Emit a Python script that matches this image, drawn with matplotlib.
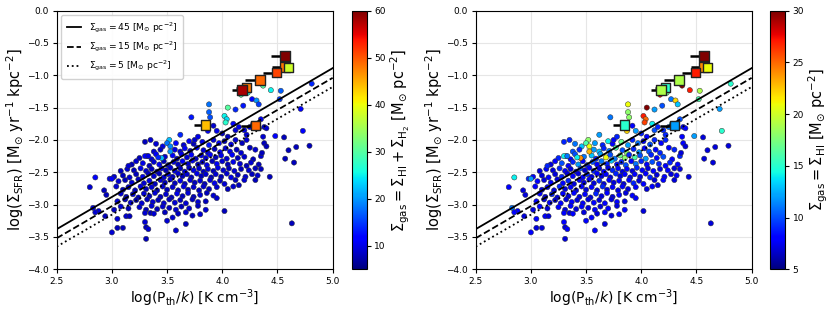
import numpy as np
import matplotlib.pyplot as plt

# model lines for three gas surface densities
line_x = [2.5, 5.0]
line_45 = [-3.38, -0.89]
line_15 = [-3.52, -1.04]
line_5 = [-3.65, -1.18]

# big squares with left-side error bars
sq_x = [4.57, 4.57, 4.60, 4.49, 4.34, 4.22, 4.18, 3.85, 4.30]
sq_y = [-0.70, -0.87, -0.88, -0.96, -1.07, -1.19, -1.23, -1.77, -1.78]
sq_xerr = [0.13, 0.12, 0.12, 0.12, 0.13, 0.10, 0.09, 0.11, 0.13]
sq_tot = [60, 48, 38, 51, 49, 48, 58, 44, 49]
sq_hi = [30, 24, 21, 27, 19, 15, 19, 15, 12]

# main cloud of points (row by row)
cloud_x = [
    3.92, 3.95, 4.00, 4.10, 4.12, 4.15, 4.05,
    3.40, 3.46, 3.58, 3.65, 3.70, 3.74, 3.82, 3.88, 3.92, 3.97, 4.02, 4.08, 4.12, 4.18, 4.22,
    3.38, 3.44, 3.57, 3.62, 3.66, 3.71, 3.77, 3.83, 3.87, 3.93, 3.98, 4.03, 4.07, 4.13, 4.17, 4.25, 4.30,
    3.25, 3.32, 3.36, 3.40, 3.48, 3.55, 3.59, 3.63, 3.68, 3.72, 3.76, 3.81, 3.85, 3.89, 3.94, 3.99, 4.04, 4.09, 4.14, 4.20, 4.28, 4.35,
    3.18, 3.22, 3.28, 3.34, 3.38, 3.43, 3.47, 3.51, 3.56, 3.60, 3.64, 3.69, 3.73, 3.78, 3.82, 3.86, 3.91, 3.95, 4.00, 4.05, 4.10, 4.16, 4.22, 4.26, 4.33,
    3.08, 3.14, 3.20, 3.26, 3.31, 3.36, 3.41, 3.45, 3.49, 3.53, 3.57, 3.62, 3.66, 3.70, 3.74, 3.79, 3.83, 3.87, 3.92, 3.96, 4.01, 4.06, 4.11, 4.17, 4.24, 4.30,
    3.02, 3.10, 3.16, 3.22, 3.28, 3.33, 3.38, 3.43, 3.47, 3.51, 3.55, 3.60, 3.64, 3.68, 3.72, 3.77, 3.81, 3.85, 3.90, 3.94, 3.99, 4.04, 4.08, 4.14, 4.21, 4.27, 4.32, 4.43,
    2.98, 3.06, 3.12, 3.18, 3.24, 3.29, 3.34, 3.39, 3.44, 3.48, 3.53, 3.57, 3.62, 3.66, 3.71, 3.75, 3.80, 3.84, 3.89, 3.93, 3.98, 4.02, 4.12, 4.20, 4.30,
    2.80, 2.93, 3.04, 3.10, 3.15, 3.21, 3.26, 3.31, 3.36, 3.41, 3.46, 3.50, 3.55, 3.60, 3.65, 3.69, 3.74, 3.79, 3.83, 3.88, 3.95, 4.05, 4.10, 4.15,
    2.95, 3.08, 3.13, 3.19, 3.24, 3.29, 3.34, 3.39, 3.44, 3.49, 3.54, 3.59, 3.64, 3.69, 3.74, 3.80, 3.86, 3.92,
    3.05, 3.12, 3.17, 3.22, 3.27, 3.32, 3.37, 3.42, 3.47, 3.52, 3.57, 3.62, 3.67, 3.73, 3.78, 3.85, 3.95,
    2.83, 2.88, 3.02, 3.08, 3.15, 3.25, 3.31, 3.36, 3.41, 3.46, 3.52, 3.58, 3.63, 3.70, 3.78, 3.85, 4.02,
    2.85, 2.94, 3.13, 3.16, 3.30, 3.35, 3.38, 3.48, 3.55, 3.60, 3.67, 3.73, 3.80,
    3.00, 3.05, 3.05, 3.10, 3.30, 3.31, 3.33, 3.31, 3.58, 3.67, 3.50,
]
cloud_y = [
    -1.78, -1.86, -1.90, -1.75, -1.85, -1.80, -1.95,
    -2.06, -2.10, -2.05, -2.08, -2.02, -2.06, -2.03, -2.08, -2.00, -2.05, -2.02, -2.07, -2.00, -2.05, -2.00,
    -2.18, -2.15, -2.15, -2.18, -2.13, -2.17, -2.12, -2.16, -2.20, -2.14, -2.19, -2.13, -2.18, -2.15, -2.20, -2.12, -2.15,
    -2.28, -2.25, -2.30, -2.22, -2.26, -2.24, -2.29, -2.22, -2.27, -2.23, -2.29, -2.24, -2.28, -2.23, -2.27, -2.24, -2.29, -2.23, -2.28, -2.26, -2.30, -2.25,
    -2.38, -2.33, -2.36, -2.40, -2.34, -2.38, -2.33, -2.39, -2.34, -2.38, -2.33, -2.37, -2.32, -2.38, -2.34, -2.39, -2.33, -2.37, -2.33, -2.38, -2.34, -2.37, -2.40, -2.35, -2.38,
    -2.48, -2.45, -2.47, -2.44, -2.48, -2.45, -2.49, -2.44, -2.47, -2.43, -2.48, -2.44, -2.49, -2.43, -2.47, -2.44, -2.49, -2.45, -2.48, -2.43, -2.47, -2.44, -2.48, -2.45, -2.47, -2.44,
    -2.57, -2.55, -2.58, -2.53, -2.57, -2.52, -2.56, -2.52, -2.58, -2.53, -2.57, -2.52, -2.56, -2.53, -2.58, -2.52, -2.56, -2.53, -2.58, -2.53, -2.57, -2.52, -2.58, -2.54, -2.57, -2.53, -2.55, -2.57,
    -2.60, -2.64, -2.62, -2.66, -2.61, -2.67, -2.63, -2.68, -2.62, -2.66, -2.61, -2.67, -2.63, -2.68, -2.62, -2.66, -2.63, -2.68, -2.62, -2.67, -2.63, -2.68, -2.62, -2.62, -2.62,
    -2.73, -2.78, -2.72, -2.77, -2.73, -2.78, -2.72, -2.76, -2.73, -2.78, -2.72, -2.77, -2.73, -2.78, -2.72, -2.77, -2.73, -2.78, -2.72, -2.76, -2.73, -2.76, -2.72, -2.70,
    -2.85, -2.83, -2.88, -2.84, -2.89, -2.83, -2.87, -2.82, -2.88, -2.84, -2.89, -2.83, -2.87, -2.82, -2.88, -2.85, -2.82, -2.86,
    -2.95, -2.92, -2.97, -2.93, -2.98, -2.92, -2.96, -2.93, -2.98, -2.92, -2.97, -2.93, -2.98, -2.92, -2.96, -2.95, -2.90,
    -3.05, -3.10, -3.08, -3.03, -3.06, -3.04, -3.08, -3.02, -3.07, -3.03, -3.05, -3.08, -3.03, -3.06, -3.02, -3.08, -3.10,
    -3.12, -3.18, -3.18, -3.18, -3.13, -3.13, -3.14, -3.12, -3.20, -3.14, -3.12, -3.17, -3.15,
    -3.43, -3.36, -3.22, -3.36, -3.27, -3.35, -3.38, -3.53, -3.40, -3.30, -3.25,
]
cloud_tot = [
    9, 10, 8, 11, 9, 10, 8,
    9, 10, 12, 9, 11, 8, 10, 13, 9, 11, 8, 10, 9, 8, 9,
    9, 8, 10, 9, 11, 8, 12, 9, 10, 8, 11, 9, 10, 8, 9, 8, 9,
    8, 10, 9, 11, 9, 12, 8, 10, 9, 11, 8, 10, 9, 12, 8, 10, 9, 11, 8, 9, 8, 9,
    8, 9, 10, 8, 9, 11, 8, 10, 9, 8, 11, 9, 10, 8, 9, 10, 8, 11, 9, 8, 10, 9, 8, 9, 8,
    8, 9, 8, 10, 9, 8, 9, 11, 8, 9, 10, 8, 9, 8, 10, 9, 8, 9, 8, 10, 9, 8, 9, 8, 9, 8,
    9, 8, 9, 8, 10, 8, 9, 8, 9, 10, 8, 9, 8, 9, 8, 10, 8, 9, 8, 9, 8, 9, 10, 8, 9, 8, 9, 8,
    10, 9, 8, 9, 8, 9, 10, 8, 9, 8, 9, 8, 10, 8, 9, 8, 9, 8, 9, 10, 8, 9, 8, 9, 8,
    9, 8, 9, 8, 9, 8, 10, 8, 9, 8, 9, 8, 9, 8, 10, 8, 9, 8, 9, 8, 9, 8, 9, 8,
    8, 9, 8, 10, 8, 9, 8, 9, 8, 9, 8, 10, 8, 9, 8, 9, 8, 9,
    9, 8, 9, 8, 9, 8, 9, 8, 9, 8, 9, 8, 9, 8, 9, 8, 9,
    10, 9, 8, 9, 8, 9, 8, 9, 8, 9, 8, 9, 8, 9, 8, 9, 8,
    9, 8, 9, 8, 9, 8, 9, 8, 9, 8, 9, 8, 9,
    9, 8, 9, 8, 9, 8, 9, 8, 9, 8, 9,
]
cloud_hi = [
    8, 12, 9, 14, 10, 9, 8,
    11, 13, 12, 9, 14, 8, 17, 12, 9, 11, 8, 10, 9, 8, 9,
    10, 9, 12, 13, 9, 11, 16, 10, 18, 9, 12, 8, 10, 8, 9, 8, 9,
    9, 12, 8, 10, 11, 13, 9, 12, 21, 10, 11, 17, 18, 9, 16, 10, 12, 9, 8, 10, 8, 9,
    7, 8, 10, 8, 9, 12, 8, 9, 10, 8, 11, 9, 13, 8, 9, 10, 8, 11, 9, 8, 10, 9, 8, 9, 8,
    7, 8, 7, 9, 8, 7, 8, 10, 7, 8, 9, 7, 8, 7, 9, 8, 7, 8, 7, 9, 8, 7, 8, 7, 8, 7,
    8, 7, 8, 7, 9, 7, 8, 7, 8, 9, 7, 8, 7, 8, 7, 9, 7, 8, 7, 8, 7, 8, 9, 7, 8, 7, 8, 7,
    9, 8, 7, 8, 7, 8, 9, 7, 8, 7, 8, 7, 9, 7, 8, 7, 8, 7, 8, 9, 7, 8, 7, 8, 7,
    8, 7, 8, 7, 8, 7, 9, 7, 8, 7, 8, 7, 8, 7, 9, 7, 8, 7, 8, 7, 8, 7, 8, 7,
    7, 8, 7, 9, 7, 8, 7, 8, 7, 8, 7, 9, 7, 8, 7, 8, 7, 8,
    8, 7, 8, 7, 8, 7, 8, 7, 8, 7, 8, 7, 8, 7, 8, 7, 8,
    11, 8, 7, 8, 7, 8, 7, 8, 7, 8, 7, 8, 7, 8, 7, 8, 7,
    8, 7, 8, 7, 8, 7, 8, 7, 8, 7, 8, 7, 8,
    8, 7, 8, 7, 8, 7, 8, 7, 8, 7, 8,
]

# scattered points above and to the right of the cloud
edge_x = [3.52, 3.50, 3.53, 3.53, 3.45, 3.42, 3.30, 3.30, 3.35, 3.62, 3.72, 3.75,
          3.78, 3.87, 3.88, 3.88, 3.89, 4.02, 4.04, 4.03, 4.05, 4.12, 4.17, 4.19,
          4.23, 4.27, 4.31, 4.33, 4.37, 4.44, 4.53, 4.52, 4.81, 4.71, 4.73, 4.48,
          4.56, 4.57, 4.60, 4.67, 4.65, 4.79, 4.63, 4.35, 4.28, 4.20, 4.22, 4.25,
          4.33, 4.38, 4.40, 4.37, 4.38, 4.40, 4.36, 4.35, 2.85, 3.00, 3.15, 3.33]
edge_y = [-2.00, -2.05, -2.10, -2.18, -2.28, -2.27, -2.25, -2.03, -2.00, -1.92, -1.65, -2.00,
          -1.95, -1.86, -1.45, -1.57, -1.65, -1.63, -1.68, -1.73, -1.50, -1.53, -1.30, -1.47,
          -1.27, -1.37, -1.39, -1.45, -1.16, -1.23, -1.24, -1.37, -1.13, -1.52, -1.86, -1.94,
          -1.96, -2.29, -2.16, -2.11, -2.35, -2.09, -3.29, -1.68, -1.75, -1.85, -1.92, -1.80,
          -1.82, -1.80, -1.82, -1.95, -2.05, -2.10, -2.20, -2.45, -2.58, -2.60, -2.40, -2.25]
edge_tot = [22, 18, 19, 20, 22, 14, 12, 8, 9, 14, 13, 9,
            10, 12, 18, 17, 16, 25, 24, 27, 30, 14, 30, 13,
            26, 12, 20, 15, 30, 25, 17, 15, 14, 11, 12, 12,
            8, 8, 8, 8, 8, 8, 8, 10, 10, 10, 9, 10,
            9, 9, 9, 9, 8, 8, 8, 8, 12, 11, 9, 10]
edge_hi = [18, 16, 21, 23, 24, 14, 14, 9, 9, 12, 11, 8,
           9, 22, 21, 18, 18, 27, 25, 26, 30, 12, 28, 10,
           17, 11, 22, 13, 30, 27, 19, 16, 15, 12, 15, 12,
           7, 7, 7, 7, 7, 7, 7, 10, 14, 9, 9, 11,
           9, 8, 8, 8, 8, 7, 7, 7, 14, 12, 9, 11]

pts_x = np.array(cloud_x + edge_x)
pts_y = np.array(cloud_y + edge_y)
pts_tot = np.array(cloud_tot + edge_tot)
pts_hi = np.array(cloud_hi + edge_hi)

fig = plt.figure(figsize=(8.3, 3.12), dpi=100)

panels = [
    (0.0683, 0.4237, pts_tot, sq_tot, 5, 60,
     r'$\Sigma_{\rm gas} = \Sigma_{\rm HI} + \Sigma_{\rm H_2}$ [M$_{\odot}$ pc$^{-2}$]'),
    (0.5731, 0.9277, pts_hi, sq_hi, 5, 30,
     r'$\Sigma_{\rm gas} = \Sigma_{\rm HI}$ [M$_{\odot}$ pc$^{-2}$]'),
]

for ax_x, cb_x, cvals, sqvals, vmin, vmax, cblabel in panels:
    ax = fig.add_axes([ax_x, 0.137, 0.3325, 0.829])
    cax = fig.add_axes([cb_x, 0.137, 0.0181, 0.829])

    ax.grid(True, color='#e6e6e6', linewidth=0.8, zorder=0)
    ax.set_axisbelow(True)

    sc = ax.scatter(pts_x, pts_y, c=cvals, cmap='jet', vmin=vmin, vmax=vmax,
                    s=14, edgecolors='#333333', linewidths=0.35, zorder=2)

    ax.plot(line_x, line_45, color='black', linestyle='-', lw=1.3, zorder=3,
            label=r'$\Sigma_{\rm gas} = 45$ [M$_{\odot}$ pc$^{-2}$]')
    ax.plot(line_x, line_15, color='black', linestyle='--', lw=1.3, zorder=3,
            label=r'$\Sigma_{\rm gas} = 15$ [M$_{\odot}$ pc$^{-2}$]')
    ax.plot(line_x, line_5, color='black', linestyle=':', lw=1.3, zorder=3,
            label=r'$\Sigma_{\rm gas} = 5$ [M$_{\odot}$ pc$^{-2}$]')

    ax.errorbar(sq_x, sq_y, xerr=[sq_xerr, np.zeros(len(sq_x))], fmt='none',
                ecolor='black', elinewidth=1.8, capsize=0, zorder=4)
    ax.scatter(sq_x, sq_y, c=sqvals, cmap='jet', vmin=vmin, vmax=vmax, marker='s',
               s=46, edgecolors='#222222', linewidths=1.0, zorder=5)

    ax.set_xlim(2.5, 5.0)
    ax.set_ylim(-4.0, 0.0)
    ax.set_xticks(np.arange(2.5, 5.01, 0.5))
    ax.set_yticks(np.arange(-4.0, 0.01, 0.5))
    ax.tick_params(labelsize=6.5, length=3, pad=2.5)
    ax.set_xlabel(r'log(P$_{\rm th}/k$) [K cm$^{-3}$]', fontsize=10, labelpad=1)
    ax.set_ylabel(r'log($\Sigma_{\rm SFR}$) [M$_{\odot}$ yr$^{-1}$ kpc$^{-2}$]',
                  fontsize=10.5, labelpad=1)

    if ax_x < 0.5:
        ax.legend(loc='upper left', fontsize=6.6, handlelength=1.6, borderpad=0.6,
                  labelspacing=0.5, framealpha=0.9)

    cb = fig.colorbar(sc, cax=cax)
    cb.ax.tick_params(labelsize=6.5, length=3, pad=2.5)
    cb.set_label(cblabel, fontsize=10.5, labelpad=2)

fig.savefig('out.png', dpi=100)
